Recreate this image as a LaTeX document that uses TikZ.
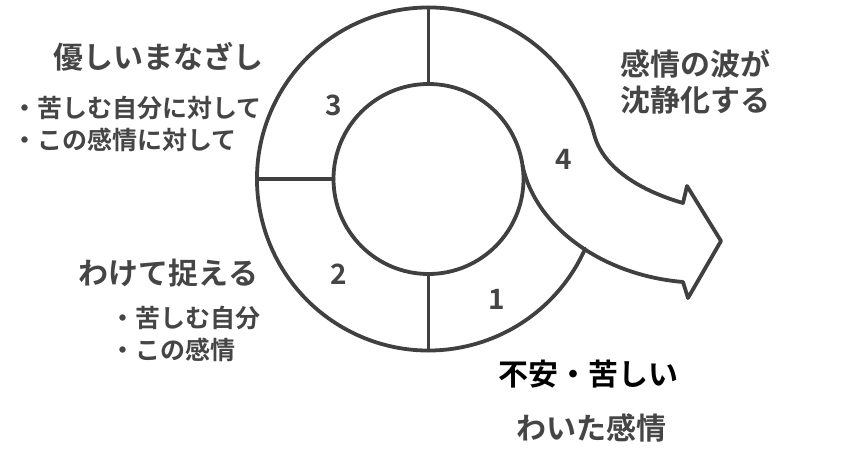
\documentclass[tikz,border=0pt]{standalone}
\usepackage{fontspec}
\setmainfont{Noto Sans CJK JP}[BoldFont={Noto Sans CJK JP Bold}]
\usetikzlibrary{calc}
\definecolor{linegray}{HTML}{404040}
\definecolor{textgray}{HTML}{454545}
\begin{document}
\begin{tikzpicture}[x=1pt, y=1pt,
  ring/.style={linegray, line width=3.8pt, line join=round, line cap=round},
  big/.style={textgray, font=\bfseries\fontsize{30}{35.5}\selectfont, inner sep=0pt},
  small/.style={textgray, font=\bfseries\fontsize{25}{32}\selectfont, inner sep=0pt, align=left, anchor=west},
  num/.style={textgray, font=\bfseries\fontsize{28}{30}\selectfont, inner sep=0pt}]
\useasboundingbox (0,0) rectangle (852,455);
\coordinate (c) at (428.5,276);
\draw[ring] (c) circle[radius=95];
% ring with the arrow
\draw[ring] ($(c)+(8:95)$) .. controls (535,230) and (600,180) .. (683,173)
  -- (688,157) -- (721,214) -- (687,269) -- (683,252)
  .. controls (655,260) and (605,280) .. ($(c)+(15:171.5)$)
  arc[start angle=15, end angle=336, radius=171.5];
\draw[ring] ($(c)+(90:95)$) -- ($(c)+(90:171.5)$);
\draw[ring] ($(c)+(180:95)$) -- ($(c)+(180:171.5)$);
\draw[ring] ($(c)+(270:95)$) -- ($(c)+(270:171.5)$);

\node[num] (n1) at (497,156) {1};
\node[num] (n2) at (339,181) {2};
\node[num] (n3) at (334,350) {3};
\node[num] (n4) at (563.5,296) {4};

\node[big] (gaze) at (158,398) {優しいまなざし};
\node[small] (gazeitems) at (12.4,331.5) {・苦しむ自分に対して\\・この感情に対して};
\node[big] (split) at (168.5,181.5) {わけて捉える};
\node[small] (splititems) at (110.4,121) {・苦しむ自分\\・この感情};
\node[big, align=left, anchor=west] (calm) at (620,373) {感情の波が\\沈静化する};
\node[big, black] (pain) at (588.5,80.5) {不安・苦しい};
\node[big] (feel) at (591.5,27.5) {わいた感情};
\end{tikzpicture}
\end{document}
